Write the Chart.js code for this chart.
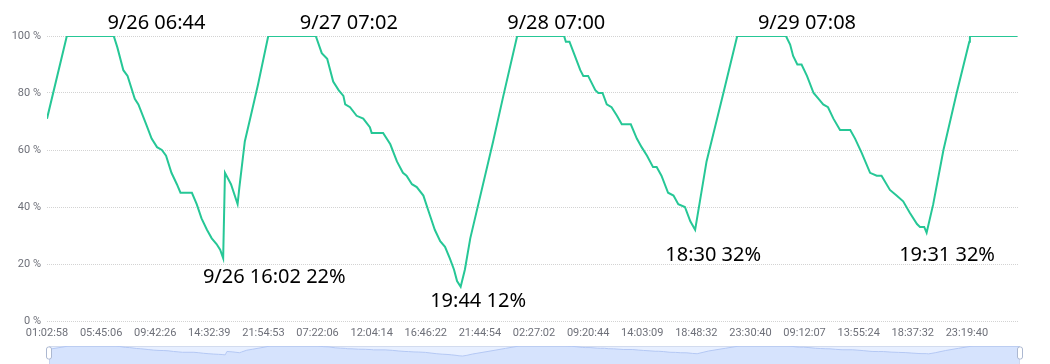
<!DOCTYPE html>
<html>
<head>
<meta charset="utf-8">
<script src="https://cdn.jsdelivr.net/npm/chart.js@4"></script>
<style>
	body { margin: 0; background: #fff; }
	#wrap { position: relative; width: 1050px; height: 364px; overflow: hidden; }
	#chart1 { position: absolute; left: 0; top: 0; }
	#slider { position: absolute; left: 0; top: 346px; }
</style>
</head>
<body>
<div id="wrap">
	<canvas id="chart1" width="1050" height="364"></canvas>
	<canvas id="slider" width="1050" height="18"></canvas>
</div>
<script>
// position of each sample on the category axis (point number)
var pointIdx = [
	0, 3.3, 11.1, 11.7, 12.7, 13.4, 14.6, 15.2,
	16.5, 17.4, 18.3, 19.1, 19.8, 20.7, 21.6, 22.2,
	24.1, 24.9, 25.7, 26.6, 27.4, 28.2, 28.8, 29.3,
	29.6, 30.1, 30.6, 31.7, 32.0, 32.9, 33.9, 35.1,
	36.8, 44.7, 45.7, 46.6, 47.6, 48.5, 49.3, 49.6,
	50.4, 51.5, 52.6, 53.7, 54.0, 55.9, 57.1, 58.2,
	59.2, 59.8, 60.7, 61.5, 62.6, 63.7, 64.5, 65.4,
	66.2, 67.0, 67.7, 68.2, 68.8, 69.5, 70.4, 74.2,
	75.9, 78.2, 86.0, 86.3, 86.9, 87.8, 88.7, 89.2,
	90.0, 91.2, 91.7, 92.4, 93.1, 93.9, 94.8, 95.6,
	97.1, 98.1, 98.9, 99.8, 100.8, 101.4, 102.2, 103.3,
	104.2, 105.0, 106.1, 107.0, 107.8, 109.7, 112.5, 114.8,
	122.9, 123.6, 124.1, 124.8, 125.5, 126.4, 127.5, 128.3,
	129.1, 129.9, 130.8, 131.9, 133.6, 134.4, 135.5, 136.9,
	138.0, 138.8, 140.2, 141.3, 142.4, 143.5, 144.7, 145.2,
	145.9, 146.3, 147.4, 149.1, 151.3, 153.4, 153.5, 161.4
];
// battery level %
var batteryPct = [
	71, 100, 100, 96, 88, 86, 78, 76,
	69, 64, 61, 60, 58, 52, 48, 45,
	45, 41, 36, 32, 29, 27, 25, 22,
	52, 50, 48, 41, 47, 63, 72, 83,
	100, 100, 94, 92, 84, 81, 79, 76,
	75, 72, 71, 68, 66, 66, 62, 56,
	52, 51, 48, 47, 44, 37, 32, 28,
	26, 22, 18, 14, 12, 18, 29, 63,
	79, 100, 100, 98, 98, 93, 88, 86,
	86, 81, 80, 80, 76, 75, 72, 69,
	69, 64, 61, 58, 54, 54, 51, 45,
	44, 41, 40, 35, 32, 56, 80, 100,
	100, 97, 93, 90, 90, 86, 80, 78,
	76, 75, 71, 67, 67, 64, 59, 52,
	51, 51, 46, 44, 42, 38, 34, 33,
	33, 31, 41, 60, 80, 98, 100, 100
];
// one axis label every 9 points
var tickLabels = ['01:02:58', '05:45:06', '09:42:26', '14:32:39', '21:54:53', '07:22:06', '12:04:14', '16:46:22', '21:44:54',
	'02:27:02', '09:20:44', '14:03:09', '18:48:32', '23:30:40', '09:12:07', '13:55:24', '18:37:32', '23:19:40'];
var tickEvery = 9;
var lastIdx = 161.5;

var noteText = ['9/26 06:44', '9/27 07:02', '9/28 07:00', '9/29 07:08', '9/26 16:02 22%', '19:44 12%', '18:30 32%', '19:31 32%'];
var noteIdx = [18.2, 50.2, 84.7, 126.4, 37.8, 71.7, 110.8, 149.7];
var noteValue = [104.6, 104.6, 104.6, 104.6, 15.4, 7.0, 23.2, 23.2];

var points = pointIdx.map(function (x, i) { return { x: x, y: batteryPct[i] }; });

var notesPlugin = {
	id: 'notes',
	afterDatasetsDraw: function (chart) {
		var ctx = chart.ctx;
		ctx.save();
		ctx.font = '20px "Noto Sans"';
		ctx.fillStyle = '#000';
		ctx.textAlign = 'center';
		ctx.textBaseline = 'middle';
		noteText.forEach(function (t, i) {
			ctx.fillText(t, chart.scales.x.getPixelForValue(noteIdx[i]), chart.scales.y.getPixelForValue(noteValue[i]));
		});
		ctx.restore();
	}
};

var c1 = document.getElementById('chart1').getContext('2d');
var batteryChart = new Chart(c1, {
	type: 'line',
	data: {
		datasets: [{
			data: points,
			borderColor: '#26c796',
			borderWidth: 2,
			pointRadius: 0,
			tension: 0,
			fill: false
		}]
	},
	options: {
		responsive: false,
		animation: false,
		layout: { padding: { top: 36, right: 32, bottom: 0, left: 0 } },
		plugins: { legend: { display: false }, tooltip: { enabled: false } },
		scales: {
			x: {
				type: 'linear',
				min: 0,
				max: lastIdx,
				grid: { display: false, drawTicks: false },
				border: { display: false },
				afterFit: function (s) { s.height = 43; },
				afterBuildTicks: function (s) {
					s.ticks = tickLabels.map(function (l, k) { return { value: k * tickEvery }; });
				},
				ticks: {
					autoSkip: false,
					maxRotation: 0,
					padding: 6,
					color: '#6e7079',
					font: { family: 'Roboto', size: 11 },
					callback: function (v) { return tickLabels[Math.round(v / tickEvery)]; }
				}
			},
			y: {
				min: 0,
				max: 100,
				afterFit: function (s) { s.width = 47; },
				grid: { color: '#d3d3d3', drawTicks: false, tickBorderDash: [1, 1] },
				border: { display: false, dash: [1, 1] },
				ticks: {
					stepSize: 20,
					padding: 6,
					color: '#6e7079',
					font: { family: 'Roboto', size: 11 },
					callback: function (v) { return v + ' %'; }
				}
			}
		}
	},
	plugins: [notesPlugin]
});

// data zoom strip under the chart
var sliderPlugin = {
	id: 'sliderBox',
	beforeDatasetsDraw: function (chart) {
		var a = chart.chartArea, ctx = chart.ctx;
		ctx.save();
		ctx.fillStyle = 'rgba(135,175,255,0.2)';
		ctx.fillRect(a.left, a.top, a.right - a.left, a.bottom - a.top);
		ctx.strokeStyle = '#d2dbee';
		ctx.strokeRect(a.left + 0.5, a.top + 0.5, a.right - a.left - 1, a.bottom - a.top + 4);
		ctx.restore();
	},
	afterDraw: function (chart) {
		var a = chart.chartArea, ctx = chart.ctx;
		ctx.save();
		ctx.fillStyle = '#fff';
		ctx.strokeStyle = '#acb8d1';
		[a.left, a.right].forEach(function (x) {
			ctx.beginPath();
			ctx.roundRect(x - 2.5, a.top + 1, 5, 12, 2);
			ctx.fill();
			ctx.stroke();
		});
		ctx.restore();
	}
};

var c2 = document.getElementById('slider').getContext('2d');
var sliderChart = new Chart(c2, {
	type: 'line',
	data: {
		datasets: [{
			data: points,
			borderColor: '#b4c8f4',
			borderWidth: 1,
			backgroundColor: 'rgba(143,176,247,0.2)',
			pointRadius: 0,
			fill: 'start'
		}]
	},
	options: {
		responsive: false,
		animation: false,
		layout: { padding: { top: 0, right: 30, bottom: 0, left: 49 } },
		plugins: { legend: { display: false }, tooltip: { enabled: false } },
		scales: {
			x: { type: 'linear', display: false, min: 0, max: lastIdx },
			y: { display: false, min: -58, max: 100 }
		}
	},
	plugins: [sliderPlugin]
});
</script>
</body>
</html>
